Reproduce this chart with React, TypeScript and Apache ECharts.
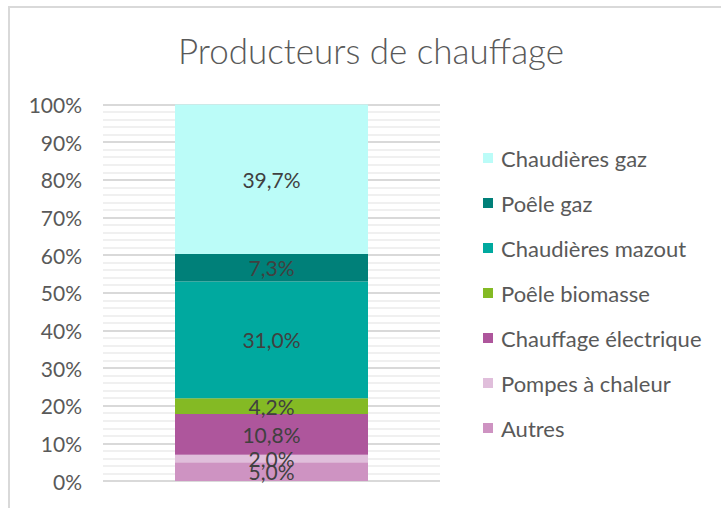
import React, { useEffect, useRef } from "react";
import * as echarts from "echarts";

const categories = ["Producteurs"];
const seriesNames = [
  "Autres",
  "Pompes à chaleur",
  "Chauffage électrique",
  "Poêle biomasse",
  "Chaudières mazout",
  "Poêle gaz",
  "Chaudières gaz",
];
const seriesValues = [5.0, 2.0, 10.8, 4.2, 31.0, 7.3, 39.7];
const seriesColors = ["#CE93C2", "#E0BEDB", "#AE569C", "#84BA24", "#00A99F", "#008079", "#BBFCF8"];
const legendOrder = [
  "Chaudières gaz",
  "Poêle gaz",
  "Chaudières mazout",
  "Poêle biomasse",
  "Chauffage électrique",
  "Pompes à chaleur",
  "Autres",
];
const titleText = "Producteurs de chauffage";

const FONT = "Lato, 'Noto Sans', sans-serif";

export default function App() {
  const ref = useRef<HTMLDivElement>(null);
  useEffect(() => {
    if (!ref.current) return;
    const chart = echarts.init(ref.current, null, { renderer: "svg" });
    chart.setOption({
      animation: false,
      backgroundColor: "#ffffff",
      textStyle: { fontFamily: FONT },
      graphic: [
        {
          type: "rect",
          shape: { x: 9, y: 7, width: 900, height: 700 },
          style: { fill: "none", stroke: "#d9d9d9", lineWidth: 2 },
          silent: true,
        },
        {
          type: "text",
          x: 371,
          y: 50,
          style: {
            text: titleText,
            fontSize: 35,
            fontWeight: 300,
            fontFamily: FONT,
            fill: "#595959",
            textAlign: "center",
            textVerticalAlign: "middle",
          },
        },
      ],
      legend: {
        orient: "vertical",
        left: 483,
        top: 147,
        padding: 0,
        itemWidth: 10,
        itemHeight: 10,
        itemGap: 23,
        icon: "rect",
        data: legendOrder,
        textStyle: { fontSize: 22, color: "#595959", fontFamily: FONT, lineHeight: 22, padding: [0, 0, 0, 3] },
        selectedMode: false,
      },
      grid: { left: 103, right: 281, top: 104.5, bottom: 27, containLabel: false },
      xAxis: {
        type: "category",
        data: categories,
        axisLine: { show: false },
        axisTick: { show: false },
        axisLabel: { show: false },
      },
      yAxis: {
        type: "value",
        min: 0,
        max: 100,
        interval: 10,
        axisLine: { show: false },
        axisTick: { show: false },
        axisLabel: { formatter: "{value}%", fontSize: 21, color: "#595959", margin: 21, fontFamily: FONT },
        splitLine: { lineStyle: { color: "#d9d9d9", width: 2 } },
        minorTick: { show: false, splitNumber: 5 },
        minorSplitLine: { show: true, lineStyle: { color: "#f0f0f0", width: 2 } },
      },
      series: seriesNames.map((name, i) => ({
        name,
        type: "bar",
        stack: "total",
        barWidth: 193,
        data: [seriesValues[i]],
        itemStyle: { color: seriesColors[i] },
        label: {
          show: true,
          position: "inside",
          formatter: (p: any) => p.value.toFixed(1).replace(".", ",") + "%",
          fontSize: 21,
          color: "#404040",
          fontFamily: FONT,
        },
      })),
    });
    return () => chart.dispose();
  }, []);
  return (
    <div
      ref={ref}
      style={{ position: "fixed", left: 0, top: 0, width: 721, height: 508 }}
    />
  );
}
